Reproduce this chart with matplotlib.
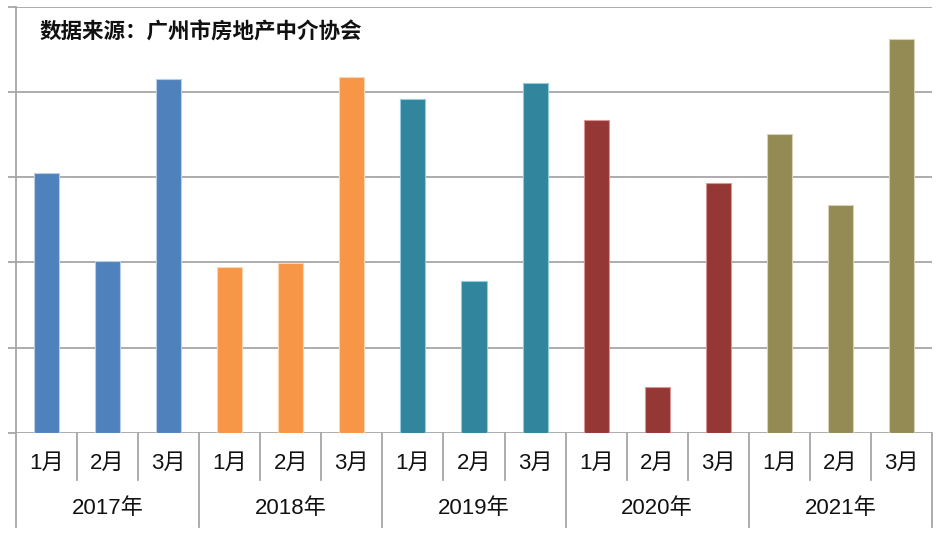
import matplotlib
matplotlib.use("Agg")
import matplotlib.pyplot as plt
from matplotlib.transforms import blended_transform_factory

plt.rcParams['font.family'] = ['Liberation Sans', 'Noto Sans CJK SC', 'DejaVu Sans']

years = ["2017年", "2018年", "2019年", "2020年", "2021年"]
months = ["1月", "2月", "3月"]
values_2017 = [6090, 4040, 8310]
values_2018 = [3885, 3990, 8345]
values_2019 = [7830, 3565, 8205]
values_2020 = [7335, 1075, 5860]
values_2021 = [7005, 5345, 9245]
series = [values_2017, values_2018, values_2019, values_2020, values_2021]
colors = ["#4F81BD", "#F79646", "#31859C", "#953735", "#948A54"]
edges = ["#B9CDE5", "#FCD5B5", "#93CDDD", "#D99694", "#D7D2B8"]
title_text = "数据来源：广州市房地产中介协会"

fig = plt.figure(figsize=(9.4, 5.42), dpi=100)
ax = fig.add_axes([16/940, (542-432.8)/542, 916/940, 426/542])

grid_color = "#A6A6A6"
pos = 0
for yi, vals in enumerate(series):
    xs = [pos + i for i in range(len(vals))]
    ax.bar(xs, vals, width=0.41, color=colors[yi], edgecolor=edges[yi], linewidth=0.8, zorder=3)
    pos += len(vals)

n = pos
ax.set_xlim(-0.5, n - 0.5)
ax.set_ylim(0, 10000)
ax.set_yticks(range(0, 10001, 2000))
ax.set_yticklabels([])
ax.set_xticks([])
ax.yaxis.grid(True, color=grid_color, linewidth=1.3, zorder=0)
ax.tick_params(axis='y', length=5.8, color=grid_color, width=1.3)
for s in ["top", "right", "bottom"]:
    ax.spines[s].set_visible(False)
ax.spines["left"].set_color(grid_color)
ax.spines["left"].set_linewidth(1.3)

trans = blended_transform_factory(ax.transData, ax.transAxes)
month_y = -0.111
year_y = -0.221
# category separators
for b in range(n + 1):
    x = b - 0.5
    if b % 3 == 0:
        ax.plot([x, x], [0, year_y], transform=trans, color=grid_color, lw=1.3, clip_on=False)
    else:
        ax.plot([x, x], [0, month_y], transform=trans, color=grid_color, lw=1.3, clip_on=False)

pos = 0
for yi, vals in enumerate(series):
    for i in range(len(vals)):
        ax.text(pos + i, -0.071, months[i], transform=trans, ha='center', va='center',
                fontsize=16, color="#111111")
    ax.text(pos + 1, -0.177, years[yi], transform=trans, ha='center', va='center',
            fontsize=16, color="#111111")
    pos += len(vals)

ax.text(0.026, 0.941, title_text, transform=ax.transAxes, ha='left', va='center',
        fontsize=15.5, color="#111111", fontweight='bold',
        family=['Noto Sans CJK SC', 'DejaVu Sans'])

fig.savefig("out.png", dpi=100)
